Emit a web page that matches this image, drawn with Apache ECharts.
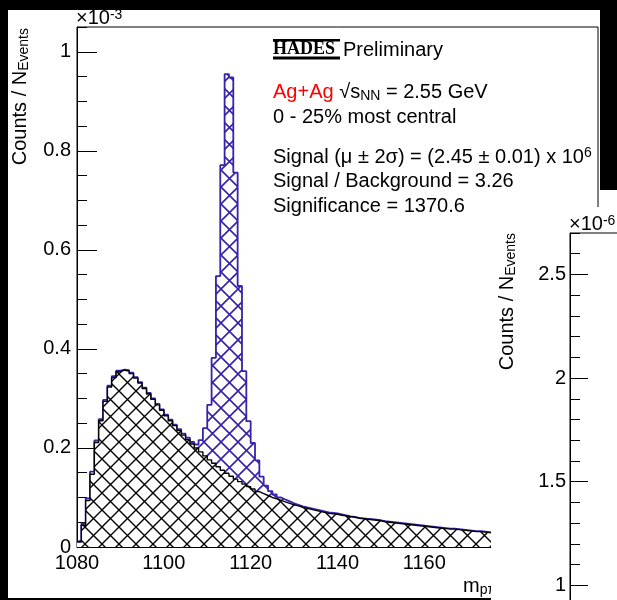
<!DOCTYPE html>
<html><head><meta charset="utf-8">
<script src="https://cdn.jsdelivr.net/npm/echarts@6/dist/echarts.min.js"></script>
<style>html,body{margin:0;padding:0;background:#000;}#c{width:617px;height:600px;}</style>
</head><body><div id="c"></div>
<script>
// ---- data (units of 1e-3 counts / N_events), 1 MeV bins starting at 1080 ----
const binStart = 1080;
const binWidth = 1;
const background = [
 0.010,0.044,0.094,0.147,0.211,0.255,0.294,0.323,0.342,0.354,
 0.357,0.355,0.350,0.341,0.331,0.320,0.309,0.298,0.287,0.276,
 0.265,0.255,0.245,0.235,0.226,0.217,0.208,0.200,0.192,0.184,
 0.176,0.169,0.162,0.155,0.149,0.143,0.137,0.132,0.127,0.122,
 0.117,0.112,0.108,0.104,0.100,0.097,0.094,0.091,0.088,0.085,
 0.083,0.080,0.078,0.076,0.074,0.072,0.070,0.068,0.067,0.066,
 0.064,0.063,0.061,0.060,0.058,0.057,0.056,0.055,0.054,0.053,
 0.051,0.050,0.049,0.048,0.047,0.046,0.045,0.044,0.043,0.042,
 0.041,0.040,0.039,0.038,0.037,0.036,0.036,0.035,0.034,0.033,
 0.032,0.031,0.031,0.030,0.029,0.028,0.028,0.027];
const total = [
 0.012,0.047,0.098,0.152,0.215,0.258,0.297,0.326,0.345,0.356,
 0.358,0.357,0.352,0.343,0.333,0.322,0.311,0.300,0.289,0.278,
 0.267,0.257,0.247,0.238,0.229,0.221,0.212,0.207,0.216,0.240,
 0.287,0.382,0.547,0.771,0.955,0.948,0.756,0.527,0.355,0.254,
 0.210,0.175,0.142,0.124,0.113,0.106,0.100,0.096,0.092,0.088,
 0.085,0.082,0.080,0.078,0.076,0.074,0.072,0.070,0.069,0.068,
 0.066,0.064,0.062,0.061,0.059,0.058,0.057,0.056,0.055,0.054,
 0.052,0.051,0.050,0.049,0.048,0.047,0.046,0.045,0.044,0.043,
 0.042,0.041,0.040,0.039,0.038,0.037,0.037,0.036,0.035,0.034,
 0.033,0.032,0.032,0.031,0.030,0.029,0.029,0.028];
const xRange = [1080, 1200];
const yRange = [0, 1.05];
const insetYRange = [0.5, 2.7];
const infoLines = [
  '0 - 25% most central',
  'Signal / Background = 3.26',
  'Significance = 1370.6'
];

// ---- helpers ----
function toSteps(vals){
  const pts = vals.map((v,i)=>[binStart+i*binWidth, v]);
  pts.push([binStart+vals.length*binWidth, vals[vals.length-1]]);
  return pts;
}
function hatch(color, bg, P, lw){
  const c=document.createElement('canvas'); c.width=P; c.height=P;
  const g=c.getContext('2d');
  if(bg){g.fillStyle=bg; g.fillRect(0,0,P,P);}
  g.strokeStyle=color; g.lineWidth=lw;
  g.beginPath();
  g.moveTo(-2,-2); g.lineTo(P+2,P+2);
  g.moveTo(-2,P+2); g.lineTo(P+2,-2);
  g.stroke();
  return c;
}
const FONT = "'Liberation Sans', Arial, Helvetica, sans-serif";
const BLUE = '#3722aa';
const chart = echarts.init(document.getElementById('c'), null, {renderer:'canvas'});

function txt(x,y,rich,text,z,extra){
  return Object.assign({type:'text', x:x, y:y, z:z||5,
    style:{text:text, rich:rich, fill:'#000', fontFamily:FONT, fontSize:20, verticalAlign:'middle', align:'left'}}, extra||{});
}
const baseRich = {
  a:{fontSize:20, fontFamily:FONT, fill:'#000', lineHeight:22},
  r:{fontSize:20, fontFamily:FONT, fill:'#ff0000', lineHeight:22},
  sub:{fontSize:14, fontFamily:FONT, fill:'#000', lineHeight:6, verticalAlign:'bottom'},
  sup:{fontSize:14, fontFamily:FONT, fill:'#000', lineHeight:5, verticalAlign:'top'}
};
const titleRich = {
  a:{fontSize:20, fontFamily:FONT, fill:'#000', lineHeight:22},
  b:{fontSize:14, fontFamily:FONT, fill:'#000', lineHeight:6, verticalAlign:'bottom'}
};
const expRich = {
  a:{fontSize:20, fontFamily:FONT, fill:'#000', lineHeight:20},
  b:{fontSize:14, fontFamily:FONT, fill:'#000', lineHeight:2, verticalAlign:'top'}
};

const option = {
  backgroundColor:'#000',
  animation:false,
  grid:[
    {left:77, top:27, width:521, height:520, show:true, borderColor:'#000', borderWidth:1,
     backgroundColor:'rgba(0,0,0,0)', outerBoundsMode:'none', containLabel:false},
    {left:570, top:233, width:300, height:456, show:true, borderColor:'#000', borderWidth:1,
     backgroundColor:'rgba(0,0,0,0)', z:101, outerBoundsMode:'none', containLabel:false}
  ],
  xAxis:[
    {type:'value', gridIndex:0, min:xRange[0], max:xRange[1], interval:20,
     axisLine:{lineStyle:{color:'#000', width:1}},
     axisTick:{inside:true, length:12, lineStyle:{color:'#000', width:1}},
     minorTick:{show:true, splitNumber:4, length:7, lineStyle:{color:'#000', width:1}},
     axisLabel:{color:'#000', fontSize:20, fontFamily:FONT, margin:6, formatter:v=>String(v)},
     splitLine:{show:false}},
    {type:'value', gridIndex:1, min:0, max:1, show:false, z:101}
  ],
  yAxis:[
    {type:'value', gridIndex:0, min:yRange[0], max:yRange[1], interval:0.2, position:'left',
     axisLine:{show:true, lineStyle:{color:'#000', width:1}},
     axisTick:{show:true, inside:true, length:20, lineStyle:{color:'#000', width:1}},
     axisLabel:{color:'#000', fontSize:20, fontFamily:FONT, margin:6, showMaxLabel:false,
       formatter:v=>String(+v.toFixed(2))},
     splitLine:{show:false}},
    {type:'value', gridIndex:0, min:yRange[0], max:yRange[1], interval:0.05, position:'left', offset:0,
     axisLine:{show:false}, axisLabel:{show:false}, splitLine:{show:false},
     axisTick:{show:true, inside:true, length:10, lineStyle:{color:'#000', width:1}}},
    {type:'value', gridIndex:1, min:insetYRange[0], max:insetYRange[1], interval:0.5, position:'left', z:101,
     axisLine:{show:true, lineStyle:{color:'#000', width:1}},
     axisTick:{show:true, inside:true, length:18, lineStyle:{color:'#000', width:1}},
     axisLabel:{color:'#000', fontSize:20, fontFamily:FONT, margin:4, showMaxLabel:false,
       formatter:v=>String(+v.toFixed(2))},
     splitLine:{show:false}},
    {type:'value', gridIndex:1, min:insetYRange[0], max:insetYRange[1], interval:0.1, position:'left', offset:0, z:101,
     axisLine:{show:false}, axisLabel:{show:false}, splitLine:{show:false},
     axisTick:{show:true, inside:true, length:10, lineStyle:{color:'#000', width:1}}}
  ],
  series:[
    {type:'line', name:'total', xAxisIndex:0, yAxisIndex:0, step:'end', symbol:'none', z:2,
     data:toSteps(total),
     lineStyle:{color:BLUE, width:1.8},
     areaStyle:{color:{image:hatch(BLUE, null, 17, 1.6), repeat:'repeat'}, opacity:1}},
    {type:'line', name:'background', xAxisIndex:0, yAxisIndex:0, step:'end', symbol:'none', z:3,
     data:toSteps(background),
     lineStyle:{color:'#000', width:1.4},
     areaStyle:{color:{image:hatch('#000', '#fff', 17, 1.4), repeat:'repeat'}, opacity:1}}
  ],
  graphic:[
    {type:'rect', z:-10, shape:{x:8, y:10, width:592, height:588}, style:{fill:'#fff'}},
    // inset pad
    {type:'rect', z:100, shape:{x:491, y:207, width:126, height:393}, style:{fill:'#fff'}},
    {type:'rect', z:100, shape:{x:599, y:190, width:18, height:18}, style:{fill:'#fff'}},
    // axis titles
    txt(9, 28, titleRich, '{a|Counts / N}{b|Events}', 5, {rotation:Math.PI/2, style:{text:'{a|Counts / N}{b|Events}', rich:titleRich, align:'right', verticalAlign:'top'}}),
    txt(496, 233, titleRich, '{a|Counts / N}{b|Events}', 102, {rotation:Math.PI/2, style:{text:'{a|Counts / N}{b|Events}', rich:titleRich, align:'right', verticalAlign:'top'}}),
    txt(463, 586, titleRich, '{a|m}{b|pπ}', 5),
    txt(76, 18, expRich, '{a|×10}{b|-3}', 5),
    txt(569, 224, expRich, '{a|×10}{b|-6}', 102),
    // HADES logo
    {type:'rect', z:5, shape:{x:273, y:39, width:67, height:2.5}, style:{fill:'#000'}},
    {type:'rect', z:5, shape:{x:273, y:56.5, width:67, height:3}, style:{fill:'#000'}},
    {type:'text', x:273, y:49, z:5, style:{text:'HADES', fontFamily:"'Liberation Serif', 'DejaVu Serif', serif", fontWeight:'bold', fontSize:18, fill:'#000', verticalAlign:'middle'}},
    txt(343, 50, baseRich, '{a|Preliminary}', 5),
    txt(273, 92.5, baseRich, '{r|Ag+Ag} {a|√}{a|s}{sub|NN}{a| = 2.55 GeV}', 5),
    txt(273, 117.5, baseRich, '{a|'+infoLines[0]+'}', 5),
    txt(273, 157, baseRich, '{a|Signal (μ ± 2σ) = (2.45 ± 0.01) x 10}{sup|6}', 5),
    txt(273, 181.5, baseRich, '{a|'+infoLines[1]+'}', 5),
    txt(273, 206.5, baseRich, '{a|'+infoLines[2]+'}', 5)
  ]
};
chart.setOption(option);
</script></body></html>
